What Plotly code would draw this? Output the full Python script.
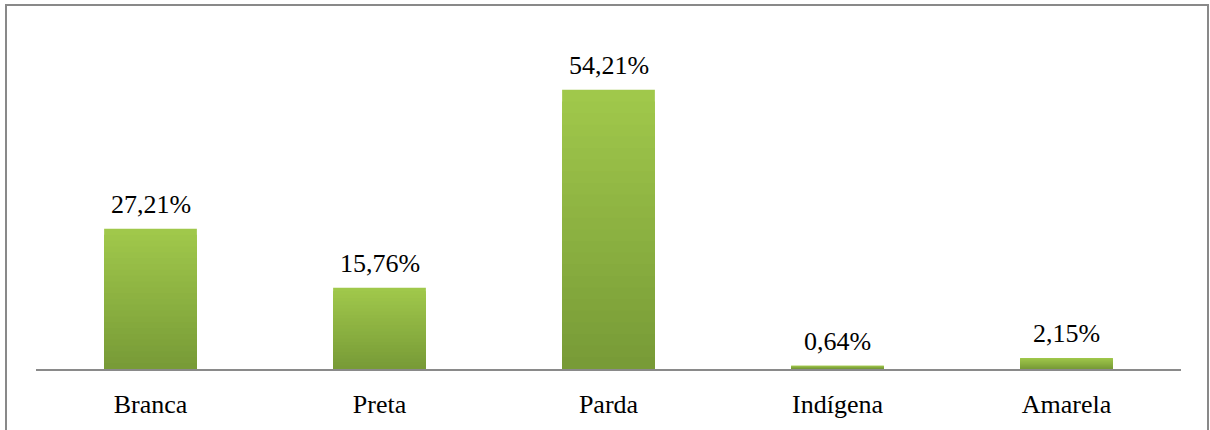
import plotly.graph_objects as go

categories = ["Branca", "Preta", "Parda", "Indígena", "Amarela"]
values = [27.21, 15.76, 54.21, 0.64, 2.15]
labels = ["27,21%", "15,76%", "54,21%", "0,64%", "2,15%"]

# gradient shades, light (top) to dark (bottom)
top_rgb = (160, 200, 75)
bot_rgb = (120, 155, 55)
N = 24

FONT = "Liberation Serif"

fig = go.Figure()
for i in range(N):
    f = 1 - i / N  # fraction of full height
    t = i / (N - 1)
    r = round(top_rgb[0] + (bot_rgb[0] - top_rgb[0]) * t)
    g = round(top_rgb[1] + (bot_rgb[1] - top_rgb[1]) * t)
    b = round(top_rgb[2] + (bot_rgb[2] - top_rgb[2]) * t)
    fig.add_trace(go.Bar(
        x=categories, y=[v * f for v in values],
        marker=dict(color=f"rgb({r},{g},{b})", line=dict(width=0)),
        width=0.405, hoverinfo="skip", showlegend=False,
    ))

for c, v, l in zip(categories, values, labels):
    fig.add_annotation(x=c, y=v, text=l, showarrow=False, yanchor="bottom",
                       yshift=8, font=dict(family=FONT, size=26, color="#000"))

L, R, T, B = 36, 29, 60, 61
W, H = 1210, 430
pw, ph = W - L - R, H - T - B
fig.add_shape(type="rect", xref="paper", yref="paper",
              x0=(6 - L) / pw, x1=(1208 - L) / pw,
              y0=(H - T - 440) / ph, y1=(H - T - 6) / ph,
              line=dict(color="#898989", width=2), fillcolor="rgba(0,0,0,0)", layer="below")

fig.update_layout(
    width=W, height=H, barmode="overlay",
    margin=dict(l=L, r=R, t=T, b=B, autoexpand=False),
    paper_bgcolor="white", plot_bgcolor="white",
    font=dict(family=FONT, size=26, color="#000"),
    xaxis=dict(showline=True, linecolor="#8a8a8a", linewidth=1.5, ticks="",
               showgrid=False, zeroline=False, ticklabelstandoff=11, automargin=False,
               tickfont=dict(family=FONT, size=26, color="#000")),
    yaxis=dict(range=[0, 60], visible=False, showgrid=False, zeroline=False),
)

fig.write_html("out.html")
